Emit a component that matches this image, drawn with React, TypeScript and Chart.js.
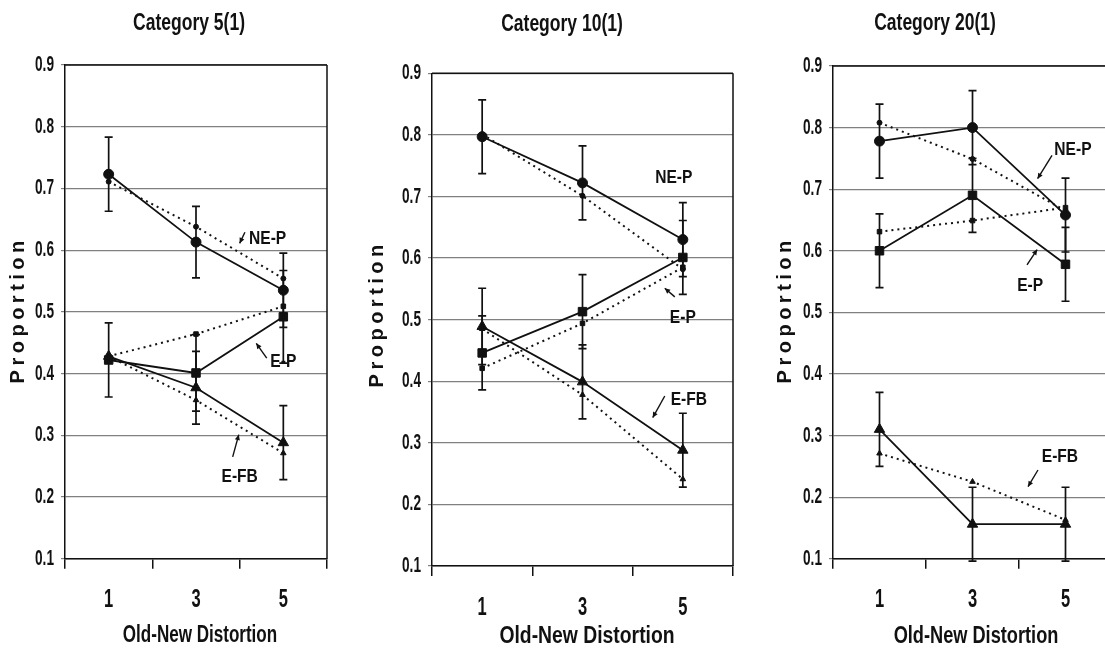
import React, { useEffect, useRef } from 'react';
import { Chart, registerables } from 'chart.js';
Chart.register(...registerables);

// ---------- data ----------
const distortionLabels = ['1', '3', '5'];
const yMin = 0.1;
const yMax = 0.9;
const yStep = 0.1;

// Category 5(1)
const cat5NEP = [0.723, 0.613, 0.535];
const cat5NEPErr = [0.06, 0.058, 0.06];
const cat5NEPFit = [0.711, 0.638, 0.554];
const cat5EP = [0.422, 0.401, 0.492];
const cat5EPErr = [0.06, 0.062, 0.075];
const cat5EPFit = [0.428, 0.464, 0.509];
const cat5EFB = [0.428, 0.377, 0.288];
const cat5EFBErr = [null, 0.059, 0.06];
const cat5EFBFit = [0.428, 0.357, 0.271];

// Category 10(1)
const cat10NEP = [0.797, 0.722, 0.63];
const cat10NEPErr = [0.06, 0.06, 0.06];
const cat10NEPFit = [0.801, 0.701, 0.582];
const cat10EP = [0.446, 0.513, 0.601];
const cat10EPErr = [0.06, 0.06, 0.06];
const cat10EPFit = [0.421, 0.494, 0.585];
const cat10EFB = [0.489, 0.399, 0.288];
const cat10EFBErr = [0.062, 0.06, 0.06];
const cat10EFBFit = [0.485, 0.378, 0.241];

// Category 20(1)
const cat20NEP = [0.778, 0.8, 0.658];
const cat20NEPErr = [0.06, 0.06, 0.06];
const cat20NEPFit = [0.808, 0.749, 0.665];
const cat20EP = [0.6, 0.69, 0.578];
const cat20EPErr = [0.06, 0.06, 0.06];
const cat20EPFit = [0.631, 0.649, 0.67];
const cat20EFB = [0.31, 0.156, 0.156];
const cat20EFBErr = [0.06, 0.06, 0.06];
const cat20EFBFit = [0.271, 0.225, 0.163];

const xTitle = 'Old-New Distortion';
const yTitle = 'Proportion';

// ---------- styling ----------
const FONT = '"Liberation Sans", Arial, Helvetica, sans-serif';
const INK = '#111';
const GRID = '#808080';

type Note = { text: string; x: number; y: number; arrow?: [number, number, number, number] };

type Panel = {
  title: string;
  left: number;
  width: number;
  plotLeft: number;
  plotRight: number;
  plotTop: number;
  plotBottom: number;
  squash: number;
  titleX: number;
  titleY: number;
  yTitleX: number;
  yTitleY: number;
  xTitleX: number;
  xTitleY: number;
  xLabelY: number;
  series: {
    nep: number[]; nepErr: (number | null)[]; nepFit: number[];
    ep: number[]; epErr: (number | null)[]; epFit: number[];
    efb: number[]; efbErr: (number | null)[]; efbFit: number[];
  };
  notes: Note[];
};

const panels: Panel[] = [
  {
    title: 'Category 5(1)',
    left: 0, width: 355,
    plotLeft: 65, plotRight: 327, plotTop: 65, plotBottom: 558.7,
    squash: 0.74,
    titleX: 189, titleY: 23,
    yTitleX: 18, yTitleY: 312,
    xTitleX: 200, xTitleY: 636, xLabelY: 600,
    series: {
      nep: cat5NEP, nepErr: cat5NEPErr, nepFit: cat5NEPFit,
      ep: cat5EP, epErr: cat5EPErr, epFit: cat5EPFit,
      efb: cat5EFB, efbErr: cat5EFBErr, efbFit: cat5EFBFit,
    },
    notes: [
      { text: 'NE-P', x: 1.82, y: 0.618, arrow: [1.56, 0.629, 1.5, 0.611] },
      { text: 'E-P', x: 2.0, y: 0.419, arrow: [1.81, 0.425, 1.69, 0.449] },
      { text: 'E-FB', x: 1.5, y: 0.232, arrow: [1.42, 0.265, 1.49, 0.301] },
    ],
  },
  {
    title: 'Category 10(1)',
    left: 355, width: 385,
    plotLeft: 432, plotRight: 736, plotTop: 73.3, plotBottom: 566,
    squash: 0.84,
    titleX: 562, titleY: 24,
    yTitleX: 377, yTitleY: 316,
    xTitleX: 587, xTitleY: 637, xLabelY: 608,
    series: {
      nep: cat10NEP, nepErr: cat10NEPErr, nepFit: cat10NEPFit,
      ep: cat10EP, epErr: cat10EPErr, epFit: cat10EPFit,
      efb: cat10EFB, efbErr: cat10EFBErr, efbFit: cat10EFBFit,
    },
    notes: [
      { text: 'NE-P', x: 1.91, y: 0.73 },
      { text: 'E-P', x: 2.0, y: 0.503, arrow: [1.92, 0.537, 1.82, 0.551] },
      { text: 'E-FB', x: 2.06, y: 0.37, arrow: [1.82, 0.376, 1.7, 0.341] },
    ],
  },
  {
    title: 'Category 20(1)',
    left: 740, width: 380,
    plotLeft: 833, plotRight: 1112, plotTop: 66, plotBottom: 558.7,
    squash: 0.79,
    titleX: 935, titleY: 23,
    yTitleX: 785, yTitleY: 312,
    xTitleX: 976, xTitleY: 637, xLabelY: 600,
    series: {
      nep: cat20NEP, nepErr: cat20NEPErr, nepFit: cat20NEPFit,
      ep: cat20EP, epErr: cat20EPErr, epFit: cat20EPFit,
      efb: cat20EFB, efbErr: cat20EFBErr, efbFit: cat20EFBFit,
    },
    notes: [
      { text: 'NE-P', x: 2.08, y: 0.764, arrow: [1.855, 0.755, 1.7, 0.717] },
      { text: 'E-P', x: 1.62, y: 0.543, arrow: [1.586, 0.577, 1.695, 0.602] },
      { text: 'E-FB', x: 1.94, y: 0.265, arrow: [1.704, 0.244, 1.597, 0.217] },
    ],
  },
];

const X_TICK_LEN = 10;

function drawText(
  ctx: CanvasRenderingContext2D,
  text: string,
  x: number,
  y: number,
  size: number,
  squash: number,
  align: CanvasTextAlign = 'center',
) {
  ctx.save();
  ctx.translate(x, y);
  ctx.scale(squash, 1);
  ctx.font = `bold ${size}px ${FONT}`;
  ctx.textAlign = align;
  ctx.textBaseline = 'middle';
  ctx.fillStyle = INK;
  ctx.fillText(text, 0, 0);
  ctx.restore();
}

function makePlugin(p: Panel) {
  return {
    id: 'decor',
    afterDatasetsDraw(chart: any) {
      const { ctx, scales } = chart;
      const xs = scales.x;
      const ys = scales.y;
      ctx.save();
      ctx.strokeStyle = INK;
      ctx.lineWidth = 1.7;
      chart.data.datasets.forEach((ds: any) => {
        if (!ds.errors) return;
        ds.data.forEach((v: number, i: number) => {
          const e = ds.errors[i];
          if (e == null) return;
          const x = xs.getPixelForValue(i);
          const yT = ys.getPixelForValue(v + e);
          const yB = ys.getPixelForValue(v - e);
          ctx.beginPath();
          ctx.moveTo(x, yT);
          ctx.lineTo(x, yB);
          ctx.moveTo(x - 4, yT);
          ctx.lineTo(x + 4, yT);
          ctx.moveTo(x - 4, yB);
          ctx.lineTo(x + 4, yB);
          ctx.stroke();
        });
      });
      ctx.restore();
    },
    afterDraw(chart: any) {
      const { ctx, chartArea, scales } = chart;
      const xs = scales.x;
      const ys = scales.y;
      const off = p.left;
      ctx.save();
      // plot frame (top and right)
      ctx.strokeStyle = INK;
      ctx.lineWidth = 1.5;
      ctx.beginPath();
      ctx.moveTo(chartArea.left, chartArea.top);
      ctx.lineTo(chartArea.right, chartArea.top);
      ctx.moveTo(chartArea.right, chartArea.top);
      ctx.lineTo(chartArea.right, chartArea.bottom);
      ctx.stroke();

      // y tick labels from the scale's ticks
      ys.ticks.forEach((t: any) => {
        drawText(ctx, Number(t.value).toFixed(1), chartArea.left - 11, ys.getPixelForValue(t.value), 22, 0.62, 'right');
      });
      // x tick labels from the scale's ticks
      xs.ticks.forEach((t: any) => {
        drawText(ctx, String(xs.getLabelForValue(t.value)), xs.getPixelForValue(t.value), p.xLabelY, 25, 0.66);
      });

      // chart title
      drawText(ctx, p.title, p.titleX - off, p.titleY, 24, 0.73);
      // x title
      drawText(ctx, xTitle, p.xTitleX - off, p.xTitleY, 23.5, p.squash * 0.98);
      // y title
      ctx.save();
      ctx.translate(p.yTitleX - off, p.yTitleY);
      ctx.rotate(-Math.PI / 2);
      ctx.font = `bold 20px ${FONT}`;
      ctx.fillStyle = INK;
      ctx.textAlign = 'center';
      ctx.textBaseline = 'middle';
      (ctx as any).letterSpacing = '4.5px';
      ctx.fillText(yTitle, 2.2, 0);
      ctx.restore();

      // notes
      p.notes.forEach((n) => {
        drawText(ctx, n.text, xs.getPixelForValue(n.x), ys.getPixelForValue(n.y), 19, 0.82);
        if (n.arrow) {
          const [x1v, y1v, x2v, y2v] = n.arrow;
          const x1 = xs.getPixelForValue(x1v);
          const y1 = ys.getPixelForValue(y1v);
          const x2 = xs.getPixelForValue(x2v);
          const y2 = ys.getPixelForValue(y2v);
          ctx.strokeStyle = INK;
          ctx.fillStyle = INK;
          ctx.lineWidth = 1.4;
          ctx.beginPath();
          ctx.moveTo(x1, y1);
          ctx.lineTo(x2, y2);
          ctx.stroke();
          const a = Math.atan2(y2 - y1, x2 - x1);
          const L = 6;
          ctx.beginPath();
          ctx.moveTo(x2, y2);
          ctx.lineTo(x2 - L * Math.cos(a - 0.45), y2 - L * Math.sin(a - 0.45));
          ctx.lineTo(x2 - L * Math.cos(a + 0.45), y2 - L * Math.sin(a + 0.45));
          ctx.closePath();
          ctx.fill();
        }
      });
      ctx.restore();
    },
  };
}

function solid(data: number[], errors: (number | null)[], style: string, radius: number, label: string) {
  return {
    label,
    data,
    errors,
    borderColor: INK,
    backgroundColor: INK,
    borderWidth: 1.8,
    pointStyle: style,
    pointRadius: radius,
    pointBackgroundColor: INK,
    pointBorderColor: INK,
    pointBorderWidth: 1,
    tension: 0,
    fill: false,
  };
}

function dotted(data: number[], style: string, radius: number, label: string) {
  return {
    label,
    data,
    borderColor: INK,
    backgroundColor: INK,
    borderWidth: 2,
    borderDash: [2, 4],
    pointStyle: style,
    pointRadius: radius,
    pointBackgroundColor: INK,
    pointBorderColor: INK,
    pointBorderWidth: 1,
    tension: 0,
    fill: false,
  };
}

function PanelChart({ p }: { p: Panel }) {
  const ref = useRef<HTMLCanvasElement | null>(null);
  useEffect(() => {
    if (!ref.current) return;
    const s = p.series;
    const yAxisWidth = p.plotLeft - p.left;
    const xAxisHeight = 648 - p.plotBottom;
    const padRight = p.left + p.width - p.plotRight;
    const chart = new Chart(ref.current, {
      type: 'line',
      data: {
        labels: distortionLabels,
        datasets: [
          solid(s.nep, s.nepErr, 'circle', 5, 'NE-P'),
          solid(s.ep, s.epErr, 'rect', 6, 'E-P'),
          solid(s.efb, s.efbErr, 'triangle', 6, 'E-FB'),
          dotted(s.nepFit, 'circle', 2.5, 'NE-P fit'),
          dotted(s.epFit, 'rect', 3.2, 'E-P fit'),
          dotted(s.efbFit, 'triangle', 3.2, 'E-FB fit'),
        ] as any,
      },
      options: {
        animation: false,
        responsive: false,
        devicePixelRatio: 1,
        layout: { padding: { left: 0, right: padRight, top: p.plotTop, bottom: 0 } },
        plugins: {
          legend: { display: false },
          tooltip: { enabled: false },
          title: { display: false },
        },
        scales: {
          x: {
            type: 'category',
            offset: true,
            grid: {
              offset: true,
              drawOnChartArea: false,
              drawTicks: true,
              tickLength: X_TICK_LEN,
              color: INK,
              lineWidth: 1.5,
            },
            border: { display: true, color: INK, width: 1.5 },
            ticks: { display: false },
            afterFit: (sc: any) => {
              sc.height = xAxisHeight;
            },
          },
          y: {
            min: yMin,
            max: yMax,
            ticks: { display: false, stepSize: yStep },
            grid: { color: GRID, lineWidth: 1.2, tickLength: 4, drawTicks: true },
            border: { display: true, color: INK, width: 1.5 },
            afterFit: (sc: any) => {
              sc.width = yAxisWidth;
            },
          },
        },
      } as any,
      plugins: [makePlugin(p)],
    });
    return () => chart.destroy();
  }, [p]);
  return (
    <canvas
      ref={ref}
      width={p.width}
      height={648}
      style={{ position: 'absolute', left: p.left, top: 0, width: p.width, height: 648, display: 'block' }}
    />
  );
}

export default function App() {
  return (
    <div
      style={{
        position: 'fixed',
        left: 0,
        top: 0,
        width: 1105,
        height: 648,
        overflow: 'hidden',
        background: '#fff',
      }}
    >
      {panels.map((p) => (
        <PanelChart key={p.title} p={p} />
      ))}
    </div>
  );
}
